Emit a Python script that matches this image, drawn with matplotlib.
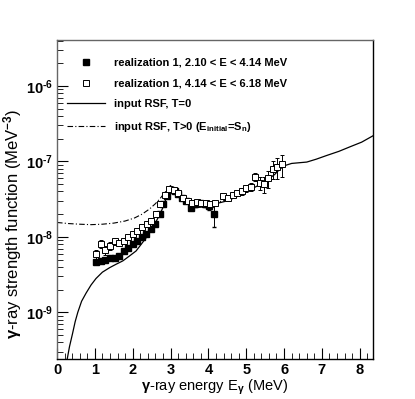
import matplotlib
matplotlib.use("Agg")
import matplotlib.pyplot as plt
import numpy as np
from matplotlib.lines import Line2D
from matplotlib.ticker import MultipleLocator, FixedLocator, NullFormatter, FuncFormatter

plt.rcParams['font.family'] = ['Liberation Sans', 'DejaVu Sans']
plt.rcParams['font.weight'] = 'bold'
plt.rcParams['mathtext.fontset'] = 'custom'
plt.rcParams['mathtext.rm'] = 'Liberation Sans:bold'
plt.rcParams['mathtext.it'] = 'Liberation Sans:bold'
plt.rcParams['mathtext.bf'] = 'Liberation Sans:bold'

# realization 1, 2.10 < E < 4.14 MeV (filled)
e_low = [1.03, 1.16, 1.28, 1.40, 1.52, 1.64, 1.76, 1.88, 2.00, 2.12, 2.24, 2.36, 2.48,
         2.60, 2.71, 2.81, 2.90, 3.00, 3.11, 3.20, 3.30, 3.42, 3.55, 3.65, 3.77, 3.90, 4.02, 4.15]
f_low = [4.6e-9, 4.8e-9, 4.9e-9, 5.2e-9, 5.3e-9, 5.6e-9, 6.5e-9, 7.2e-9, 8.0e-9, 8.9e-9, 9.8e-9,
         1.08e-8, 1.26e-8, 1.47e-8, 2.0e-8, 2.7e-8, 3.5e-8, 4.2e-8, 4.1e-8, 3.7e-8, 3.3e-8,
         3.0e-8, 2.4e-8, 2.7e-8, 2.8e-8, 2.7e-8, 2.6e-8, 2.0e-8]
err_low = [2e-10, 2e-10, 2e-10, 2e-10, 2e-10, 2e-10, 3e-10, 3e-10, 3e-10, 3e-10, 4e-10,
           4e-10, 5e-10, 6e-10, 8e-10, 1e-9, 1.2e-9, 1.5e-9, 1.5e-9, 1.5e-9, 1.5e-9,
           1.5e-9, 1.5e-9, 2e-9, 2e-9, 2.5e-9, 3e-9, 6.5e-9]

# realization 1, 4.14 < E < 6.18 MeV (open)
e_high = [1.03, 1.15, 1.28, 1.39, 1.52, 1.63, 1.76, 1.88, 2.00, 2.12, 2.25, 2.37, 2.49, 2.62,
          2.73, 2.85, 2.97, 3.09, 3.20, 3.33, 3.45, 3.57, 3.69, 3.81, 3.93, 4.05, 4.17,
          4.39, 4.52, 4.64, 4.76, 4.88, 5.00, 5.12, 5.23, 5.36, 5.47, 5.58, 5.71, 5.82, 5.95]
f_high = [5.9e-9, 8.1e-9, 6.7e-9, 7.6e-9, 8.7e-9, 8.4e-9, 8.8e-9, 9.8e-9, 1.08e-8, 1.2e-8,
          1.33e-8, 1.47e-8, 1.63e-8, 2.0e-8, 2.7e-8, 3.6e-8, 4.3e-8, 4.2e-8, 3.8e-8, 3.3e-8,
          3.0e-8, 2.8e-8, 2.9e-8, 2.8e-8, 2.8e-8, 2.7e-8, 2.8e-8,
          3.5e-8, 3.3e-8, 3.6e-8, 3.8e-8, 4.0e-8, 4.4e-8, 4.6e-8, 6.3e-8, 5.2e-8, 5.0e-8,
          6.0e-8, 8.0e-8, 8.4e-8, 9.2e-8]
err_high = [8e-10, 1e-9, 9e-10, 9e-10, 9e-10, 8e-10, 8e-10, 8e-10, 8e-10, 8e-10,
            9e-10, 1e-9, 1e-9, 1.2e-9, 1.5e-9, 1.8e-9, 2e-9, 2e-9, 2e-9, 2e-9,
            2e-9, 2e-9, 2e-9, 2e-9, 2e-9, 2e-9, 2e-9,
            3e-9, 3e-9, 3e-9, 3e-9, 4e-9, 5e-9, 6e-9, 8e-9, 1.0e-8, 1.2e-8,
            1.5e-8, 2.2e-8, 2.6e-8, 3.0e-8]

# input RSF, T=0
e_rsf0 = [0.27, 0.33, 0.41, 0.48, 0.55, 0.65, 0.77, 0.9, 1.03, 1.2, 1.39, 1.55, 1.74, 1.9,
          2.09, 2.22, 2.36, 2.5, 2.62, 2.72, 2.80, 2.88, 2.95, 3.0, 3.05, 3.12, 3.2, 3.3,
          3.4, 3.5, 3.6, 3.7, 3.8, 4.0, 4.2, 4.5, 4.75, 5.0, 5.25, 5.5, 5.75, 5.9, 6.05,
          6.2, 6.4, 6.6, 6.85, 7.13, 7.45, 7.74, 8.05, 8.36]
f_rsf0 = [2.4e-10, 3.5e-10, 5.2e-10, 7.5e-10, 1.0e-9, 1.4e-9, 1.8e-9, 2.3e-9, 2.8e-9, 3.4e-9,
          3.9e-9, 4.3e-9, 4.8e-9, 5.5e-9, 6.5e-9, 7.9e-9, 9.8e-9, 1.25e-8, 1.6e-8, 2.0e-8,
          2.45e-8, 3.2e-8, 4.2e-8, 4.7e-8, 4.6e-8, 4.2e-8, 3.7e-8, 3.2e-8, 2.9e-8, 2.65e-8,
          2.5e-8, 2.45e-8, 2.48e-8, 2.6e-8, 2.75e-8, 3.0e-8, 3.4e-8, 4.0e-8, 4.6e-8, 5.4e-8,
          6.7e-8, 8.0e-8, 8.9e-8, 9.4e-8, 9.6e-8, 9.8e-8, 1.07e-7, 1.2e-7, 1.36e-7, 1.56e-7,
          1.8e-7, 2.2e-7]

# input RSF, T>0
e_rsfT = [0.0, 0.3, 0.6, 0.9, 1.2, 1.5, 1.8, 2.05, 2.25, 2.45, 2.6, 2.72, 2.82, 2.92, 3.0,
          3.05, 3.12, 3.2, 3.3, 3.4, 3.5, 3.6, 3.7, 3.8, 4.0, 4.2, 4.5]
f_rsfT = [1.55e-8, 1.5e-8, 1.47e-8, 1.45e-8, 1.47e-8, 1.52e-8, 1.62e-8, 1.78e-8, 2.0e-8,
          2.35e-8, 2.75e-8, 3.2e-8, 3.7e-8, 4.3e-8, 4.8e-8, 4.7e-8, 4.3e-8, 3.8e-8, 3.3e-8,
          3.0e-8, 2.75e-8, 2.6e-8, 2.55e-8, 2.58e-8, 2.7e-8, 2.85e-8, 3.1e-8]

y_major = [1e-9, 1e-8, 1e-7, 1e-6]

fig = plt.figure(figsize=(4.15, 3.99), dpi=100)
ax = fig.add_axes([57/415, 40/399, 316/415, 319/399])

ax.plot(e_rsf0, f_rsf0, color='black', lw=0.9)
ax.plot(e_rsfT, f_rsfT, color='black', lw=0.8, ls=(0, (5, 2, 1, 2)))
ax.errorbar(e_low, f_low, yerr=err_low, fmt='s', ms=4.5, color='black', mfc='black',
            ecolor='black', elinewidth=0.7, capsize=1.5)
ax.errorbar(e_high, f_high, yerr=err_high, fmt='s', ms=5, color='black', mfc='white',
            mew=0.7, ecolor='black', elinewidth=0.7, capsize=1.5)

ax.set_yscale('log')
ax.set_xlim(0, 8.35)
ax.set_ylim(2.4e-10, 4.07e-6)

ax.xaxis.set_major_locator(MultipleLocator(1))
ax.xaxis.set_minor_locator(MultipleLocator(0.2))
ax.yaxis.set_major_locator(FixedLocator(y_major))
minors = [m * d for d in [1e-10, 1e-9, 1e-8, 1e-7, 1e-6] for m in range(2, 10)]
minors = [v for v in minors if 2.4e-10 <= v <= 4.07e-6]
ax.yaxis.set_minor_locator(FixedLocator(minors))
ax.yaxis.set_minor_formatter(NullFormatter())
ax.yaxis.set_major_formatter(FuncFormatter(
    lambda v, p: r'10$^{\text{-%d}}$' % round(-np.log10(v))))
ax.tick_params(which='both', direction='in', top=False, right=False, labelsize=10.5)
ax.tick_params(which='major', length=8, width=0.8)
ax.tick_params(which='minor', length=4, width=0.6)
ax.tick_params(axis='x', pad=3)
ax.tick_params(axis='y', pad=3, labelsize=10.5)
for s in ['left', 'top']:
    ax.spines[s].set_color('#666666')
for s in ax.spines.values():
    s.set_linewidth(1.0)

ax.set_xlabel(r'$\gamma$-ray energy E$_{\gamma}$ (MeV)', fontsize=10.5)
ax.set_ylabel(r'$\gamma$-ray strength function (MeV$^{-3}$)', fontsize=12)
ax.xaxis.set_label_coords(0.5, -0.058)
ax.yaxis.set_label_coords(-0.103, 0.423)

handles = [
    Line2D([], [], ls='none', marker='s', ms=4.5, color='black', mfc='black'),
    Line2D([], [], ls='none', marker='s', ms=5, color='black', mfc='white', mew=0.7),
    Line2D([], [], color='black', lw=0.9),
    Line2D([], [], color='black', lw=0.8, ls=(0, (5, 2, 1, 2))),
]
labels = ['realization 1, 2.10 < E < 4.14 MeV',
          'realization 1, 4.14 < E < 6.18 MeV',
          'input RSF, T=0',
          r'input RSF, T>0 (E$_{\rm initial}$=S$_{\rm n}$)']
ax.legend(handles, labels, loc='upper left', bbox_to_anchor=(0.0, 0.975), frameon=False,
          fontsize=8, handlelength=3.4, handletextpad=0.8, labelspacing=0.95)

fig.savefig('out.png', dpi=100)
